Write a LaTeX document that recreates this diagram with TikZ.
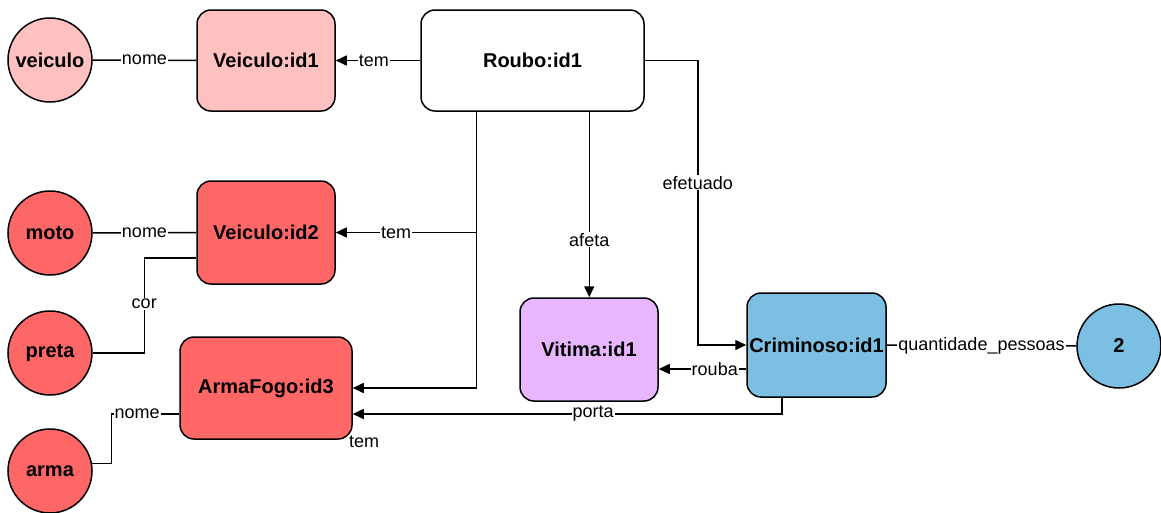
\documentclass[tikz,border=0pt]{standalone}
\usepackage{fontspec}
\setmainfont{Liberation Sans}
\usetikzlibrary{arrows.meta}
\definecolor{pinkfill}{HTML}{FFC0C0}
\definecolor{redfill}{HTML}{FF6666}
\definecolor{violetfill}{HTML}{E8B6FF}
\definecolor{bluefill}{HTML}{7BBFE2}
\begin{document}
\begin{tikzpicture}[x=1pt,y=-1pt,
  entity/.style={draw, line width=1.5pt, rounded corners=14pt, inner sep=0pt,
    font=\fontsize{20}{24}\selectfont\bfseries},
  val/.style={draw, line width=1.5pt, circle, minimum size=84pt, inner sep=0pt,
    font=\fontsize{20}{24}\selectfont\bfseries},
  lbl/.style={fill=white, inner sep=1pt, font=\fontsize{18}{21}\selectfont},
  conn/.style={line width=1.5pt},
  arr/.style={conn, -{Triangle[length=11pt,width=10pt]}}
]
\useasboundingbox (0,0) rectangle (1161,512);

% entities
\node[entity, fill=pinkfill, minimum width=138pt, minimum height=101pt] (v1) at (266,60.5) {Veiculo:id1};
\node[entity, fill=white, minimum width=223pt, minimum height=101pt] (roubo) at (532.5,60.5) {Roubo:id1};
\node[entity, fill=redfill, minimum width=138pt, minimum height=103pt] (v2) at (266,232.5) {Veiculo:id2};
\node[entity, fill=redfill, minimum width=172pt, minimum height=102pt] (af) at (266,388) {ArmaFogo:id3};
\node[entity, fill=violetfill, minimum width=138pt, minimum height=103pt] (vit) at (589,349.5) {Vitima:id1};
\node[entity, fill=bluefill, minimum width=139pt, minimum height=104pt] (crim) at (816.5,345) {Criminoso:id1};

% values
\node[val, fill=pinkfill] (veiculo) at (50,60) {veiculo};
\node[val, fill=redfill] (moto) at (50,233) {moto};
\node[val, fill=redfill] (preta) at (50,353) {preta};
\node[val, fill=redfill] (arma) at (50,471) {arma};
\node[val, fill=bluefill] (two) at (1119,346) {2};

% relations
\draw[conn] (veiculo) -- node[lbl] {nome} (v1);
\draw[arr] (roubo.west) -- node[lbl, pos=0.55] {tem} (v1.east);
\draw[conn] (moto) -- node[lbl] {nome} (v2.west);
\draw[conn] ([yshift=-25.5pt]v2.west) -- ++(-52,0) |- node[lbl, pos=0.24] {cor} (preta.east);
\draw[conn] ([yshift=-26pt]af.west) -- node[lbl, pos=0.62] {nome} ++(-68,0) |- (arma.10);

\draw[arr] ([xshift=56pt]roubo.south west) |- (af.east);
\node[lbl] (temaf) at (364,442) {tem};
\draw[arr] ([xshift=56pt]roubo.south west |- v2.east) -- node[lbl, pos=0.57] {tem} (v2.east);
\draw[arr] ([xshift=169pt]roubo.south west) -- node[lbl, pos=0.69] {afeta} ([xshift=169pt]roubo.south west |- vit.north);
\draw[arr] (roubo.east) -- ++(53,0) coordinate (e1) -- node[lbl, pos=0.43] {efetuado} (e1 |- crim.west) -- (crim.west);
\draw[arr] ([yshift=-24pt]crim.west) -- node[lbl, pos=0.36] {rouba} ([yshift=-24pt]crim.west -| vit.east);
\draw[arr] ([xshift=-34.5pt]crim.south) |- node[lbl, pos=0.72] {porta} ([yshift=-26pt]af.east);
\draw[conn] (crim.east) -- node[lbl] {quantidade\_pessoas} (two);
\end{tikzpicture}
\end{document}
